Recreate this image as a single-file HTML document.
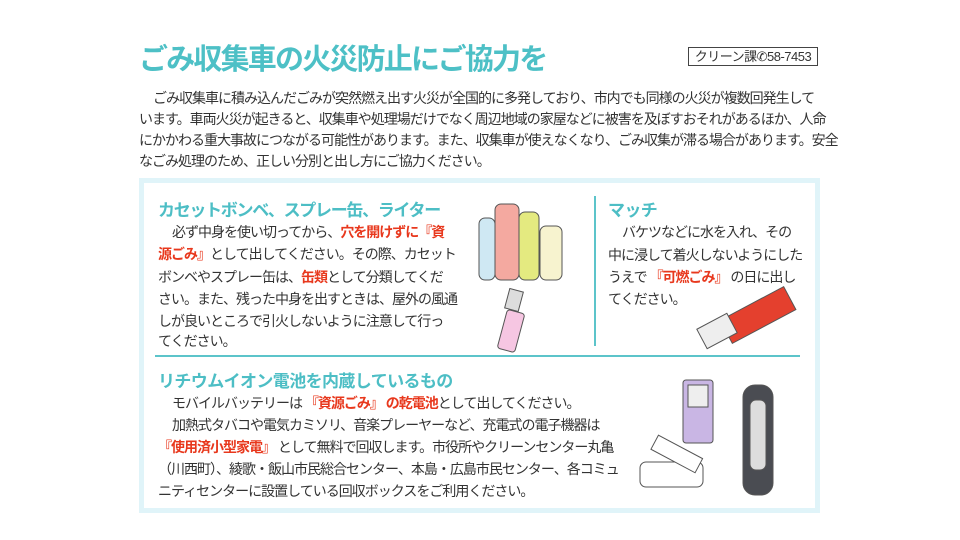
<!DOCTYPE html>
<html><head><meta charset="utf-8"><style>
body{margin:0;width:960px;height:540px;background:#fff;position:relative;overflow:hidden;font-family:"Liberation Sans","Noto Sans CJK JP",sans-serif;color:#333}
.a{position:absolute;white-space:nowrap}
.t{font-size:29px;font-weight:bold;color:#4dc0c6;letter-spacing:-1.8px}
.p{font-size:14px;line-height:14px;color:#333;letter-spacing:-1px}
.h{font-size:17px;font-weight:bold;color:#4dbec5;letter-spacing:-0.6px}
.r{color:#e8381d;font-weight:bold}
</style></head><body>
<div class="a t" style="left:139px;top:36px">ごみ収集車の火災防止にご協力を</div>
<div class="a" style="left:688px;top:47px;width:128px;height:17px;border:1px solid #444;font-size:13px;line-height:17px;text-align:center;letter-spacing:-0.5px">クリーン課✆58-7453</div>
<div class="a p" style="left:153px;top:91px">ごみ収集車に積み込んだごみが突然燃え出す火災が全国的に多発しており、市内でも同様の火災が複数回発生して</div>
<div class="a p" style="left:139px;top:112px">います。車両火災が起きると、収集車や処理場だけでなく周辺地域の家屋などに被害を及ぼすおそれがあるほか、人命</div>
<div class="a p" style="left:139px;top:133px">にかかわる重大事故につながる可能性があります。また、収集車が使えなくなり、ごみ収集が滞る場合があります。安全</div>
<div class="a p" style="left:139px;top:154px">なごみ処理のため、正しい分別と出し方にご協力ください。</div>

<div class="a" style="left:139px;top:178px;width:671px;height:325px;border:5px solid #e0f4f9;background:#fff"></div>
<div class="a" style="left:594px;top:196px;width:2px;height:150px;background:#5cc4ca"></div>
<div class="a" style="left:155px;top:355px;width:645px;height:2px;background:#5cc4ca"></div>

<div class="a h" style="left:158px;top:196px;letter-spacing:-1.3px">カセットボンベ、スプレー缶、ライター</div>
<div class="a p" style="left:172px;top:225px">必ず中身を使い切ってから、<span class="r">穴を開けずに『資</span></div>
<div class="a p" style="left:158px;top:247px"><span class="r">源ごみ』</span>として出してください。その際、カセット</div>
<div class="a p" style="left:158px;top:270px">ボンベやスプレー缶は、<span class="r">缶類</span>として分類してくだ</div>
<div class="a p" style="left:158px;top:292px">さい。また、残った中身を出すときは、屋外の風通</div>
<div class="a p" style="left:158px;top:314px">しが良いところで引火しないように注意して行っ</div>
<div class="a p" style="left:158px;top:334px">てください。</div>

<div class="a h" style="left:608px;top:196px">マッチ</div>
<div class="a p" style="left:622px;top:225px">バケツなどに水を入れ、その</div>
<div class="a p" style="left:608px;top:248px">中に浸して着火しないようにした</div>
<div class="a p" style="left:608px;top:270px">うえで <span class="r">『可燃ごみ』</span> の日に出し</div>
<div class="a p" style="left:608px;top:292px">てください。</div>

<div class="a h" style="left:158px;top:367px">リチウムイオン電池を内蔵しているもの</div>
<div class="a p" style="left:172px;top:396px">モバイルバッテリーは <span class="r">『資源ごみ』 の乾電池</span>として出してください。</div>
<div class="a p" style="left:172px;top:418px">加熱式タバコや電気カミソリ、音楽プレーヤーなど、充電式の電子機器は</div>
<div class="a p" style="left:158px;top:440px"><span class="r">『使用済小型家電』</span> として無料で回収します。市役所やクリーンセンター丸亀</div>
<div class="a p" style="left:158px;top:462px">（川西町）、綾歌・飯山市民総合センター、本島・広島市民センター、各コミュ</div>
<div class="a p" style="left:158px;top:484px">ニティセンターに設置している回収ボックスをご利用ください。</div>

<svg class="a" style="left:0;top:0" width="960" height="540">
<g stroke="#555" stroke-width="1">
<rect x="479" y="218" width="16" height="62" rx="6" fill="#cfe8f3"/>
<rect x="495" y="204" width="24" height="76" rx="6" fill="#f4a9a0"/>
<rect x="519" y="212" width="20" height="68" rx="6" fill="#e4ea80"/>
<rect x="540" y="226" width="22" height="54" rx="6" fill="#f7f3cf"/>
<rect x="502" y="311" width="18" height="40" rx="3" transform="rotate(15 511 331)" fill="#f6c6e2"/>
<rect x="507" y="290" width="14" height="20" transform="rotate(15 514 300)" fill="#ddd"/>
<rect x="722" y="302" width="72" height="26" transform="rotate(-28 758 315)" fill="#e4402e"/>
<rect x="700" y="320" width="34" height="22" transform="rotate(-28 717 331)" fill="#eee"/>
<rect x="683" y="380" width="30" height="63" rx="3" fill="#c9b6e4"/>
<rect x="688" y="385" width="20" height="22" fill="#eee"/>
<rect x="743" y="385" width="30" height="110" rx="12" fill="#4a4c52"/>
<rect x="750" y="400" width="16" height="70" rx="6" fill="#ddd"/>
<rect x="640" y="462" width="63" height="25" rx="6" fill="#fff"/>
<rect x="652" y="445" width="50" height="16" transform="rotate(28 675 453)" fill="#fff"/>
</g>
</svg>
</body></html>
